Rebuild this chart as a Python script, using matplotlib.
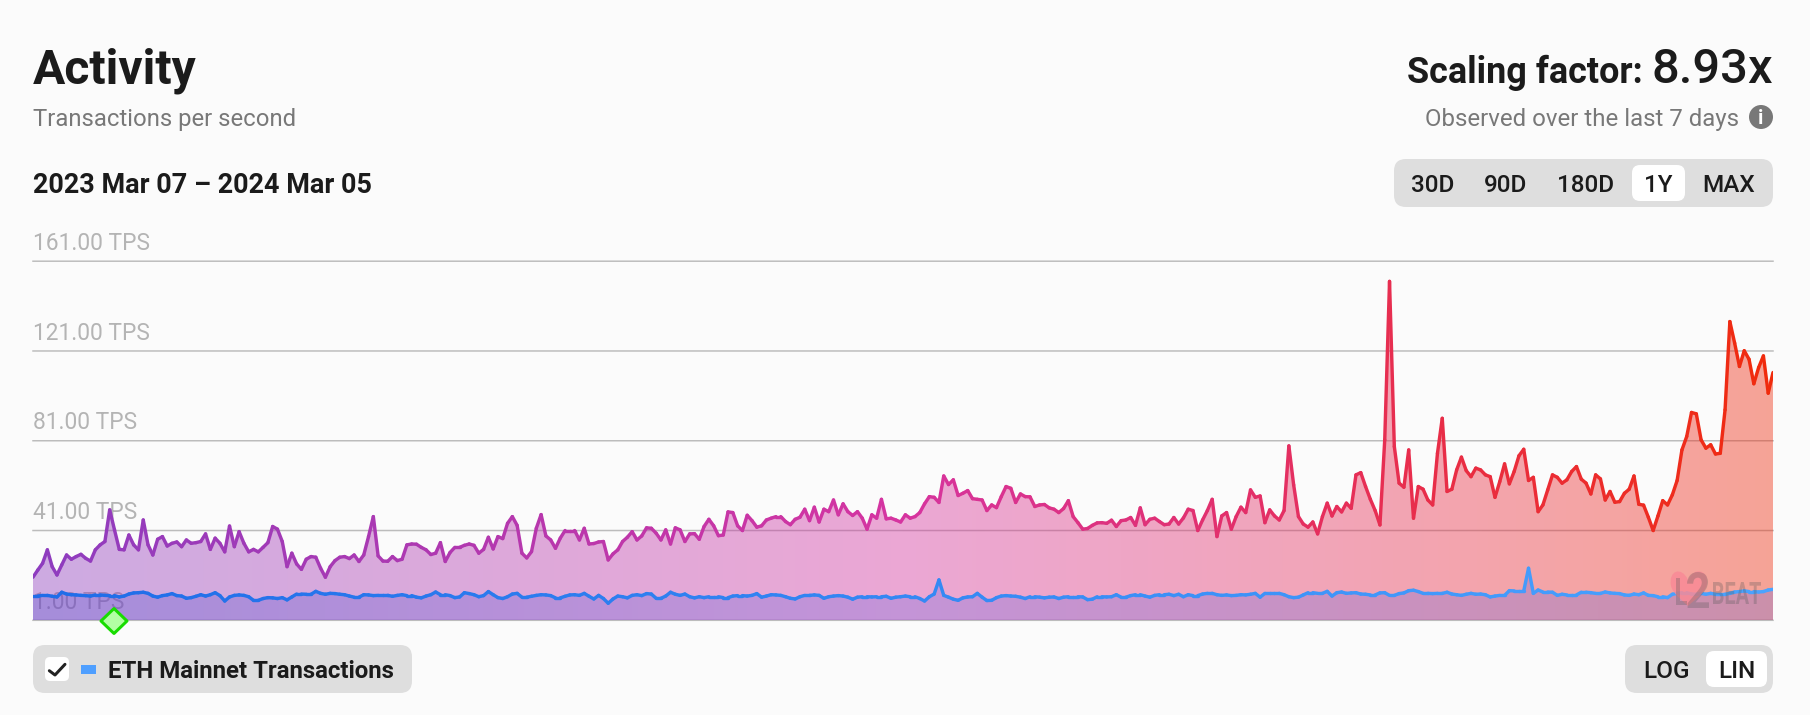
import numpy as np
import matplotlib
matplotlib.use("Agg")
import matplotlib.pyplot as plt
from matplotlib.collections import LineCollection
from matplotlib.patches import FancyBboxPatch, PathPatch, Circle, Polygon
from matplotlib.path import Path
from matplotlib.textpath import TextPath
from matplotlib.font_manager import FontProperties
from matplotlib.transforms import Affine2D, ScaledTranslation

plt.rcParams['font.family'] = ['Roboto', 'DejaVu Sans']

activity_tps = [
    20.2,23.4,26.4,32.4,24.9,21.2,25.7,30.1,28.2,29.4,30.4,28.6,27.4,32.4,34.6,36.1,50.2,41.3,32.6,32.4,39.0,34.6,32.4,45.7,34.6,30.1,37.1,38.3,34.1,35.3,
    35.9,33.8,36.8,35.3,35.6,36.1,39.5,32.6,37.6,35.3,31.5,43.0,33.8,40.5,35.3,31.5,32.6,31.5,33.5,35.6,42.8,41.6,36.1,24.9,30.9,26.1,23.7,28.2,29.4,29.1,
    24.2,20.2,24.9,27.6,29.1,29.4,28.5,30.1,27.2,30.1,38.3,47.2,29.7,27.4,27.3,29.4,27.6,28.2,34.6,35.0,34.9,33.5,32.4,30.3,30.9,35.6,27.2,31.2,33.5,33.5,
    34.4,35.0,34.4,30.9,32.6,38.0,32.8,38.3,37.4,44.2,47.2,43.3,30.9,28.8,31.6,42.0,48.1,38.6,36.8,33.1,37.6,41.0,41.0,41.0,36.8,42.0,35.0,35.2,35.9,36.1,
    27.9,30.6,32.4,36.1,38.0,40.5,36.8,38.6,42.2,42.0,39.8,36.8,41.3,35.0,42.2,41.3,36.1,39.5,39.6,37.1,42.8,46.0,43.1,38.7,39.0,49.3,49.0,43.1,41.0,47.8,
    45.4,42.5,43.1,45.7,46.5,47.2,47.2,45.0,43.6,46.0,46.9,50.5,45.4,51.4,44.8,50.5,49.4,54.6,48.0,52.9,49.4,47.7,49.4,46.5,41.6,48.0,46.5,54.9,46.2,46.5,
    45.7,44.8,48.0,46.5,
    47.2,49.0,52.9,56.1,55.8,53.5,65.3,61.5,63.6,56.6,57.6,58.8,55.2,54.9,54.6,49.9,52.4,51.2,56.1,60.6,59.8,53.5,57.3,56.1,56.0,51.7,52.4,52.6,51.1,50.5,
    49.0,50.8,54.3,47.2,44.5,41.6,41.9,43.3,44.4,44.5,44.2,45.6,42.8,45.4,45.7,46.8,43.3,51.1,43.6,46.0,46.5,45.0,43.6,43.9,46.8,43.9,46.6,50.5,49.9,41.0,
    45.7,49.9,54.9,38.3,47.5,49.0,41.6,47.2,51.4,49.0,59.1,55.8,56.4,44.5,50.2,47.5,45.7,49.9,78.7,61.3,47.2,43.9,42.5,44.8,39.5,47.2,53.2,47.5,51.7,49.3,
    53.2,50.9,
    65.8,66.8,60.6,54.9,49.9,43.5,81.4,152.0,78.4,62.1,60.3,76.9,46.5,60.6,59.4,54.6,52.4,75.4,91.0,58.4,59.4,68.0,73.7,67.7,65.0,68.8,68.0,65.8,65.0,55.8,
    62.8,70.7,61.8,67.3,74.3,77.2,63.3,64.7,49.4,52.4,59.1,65.8,64.7,62.1,63.6,67.3,69.5,63.9,62.1,57.3,65.8,64.0,54.6,58.4,53.6,53.9,57.6,59.4,65.3,52.7,
    52.3,46.9,41.0,47.5,54.3,52.4,56.9,63.3,76.9,82.9,93.6,93.0,81.4,77.7,79.2,75.1,75.4,94.8,134.1,124.5,114.1,121.1,117.3,106.4,113.6,118.8,102.2,111.4,
]

eth_tps = [
    11.8,11.8,12.1,12.1,11.7,11.4,13.5,12.7,12.4,12.3,12.1,12.0,11.8,12.3,12.3,12.1,12.0,12.0,11.4,11.8,12.7,13.2,13.3,13.5,13.0,11.8,11.3,12.0,12.3,12.9,
    12.0,11.8,10.8,11.1,11.7,12.4,11.8,12.4,13.3,12.0,9.6,11.4,12.1,12.3,12.1,11.5,9.9,9.9,10.7,11.1,11.0,10.7,11.1,10.1,11.4,12.7,12.7,12.6,12.6,13.9,
    13.0,12.6,13.0,12.9,12.6,12.4,11.8,11.3,11.3,12.4,12.3,12.0,12.1,12.1,12.1,11.7,12.1,12.4,12.0,12.0,11.3,11.0,11.8,12.4,13.6,12.4,12.4,12.0,11.1,11.4,
    13.3,12.9,12.4,11.5,12.0,13.8,12.4,11.1,10.7,11.5,12.7,13.0,11.3,11.3,11.7,12.1,12.4,12.3,12.0,11.0,11.0,11.7,12.3,12.4,12.1,13.0,11.7,10.5,12.1,10.7,
    8.6,10.5,11.8,11.5,11.0,12.1,12.4,12.0,12.9,12.7,10.8,10.8,11.8,13.5,12.6,12.1,12.7,11.5,11.0,11.5,11.1,11.5,11.5,11.5,11.1,11.1,11.8,12.0,12.0,11.8,
    12.1,12.9,11.3,11.8,12.4,12.3,12.1,11.5,10.8,10.5,11.5,12.1,12.1,12.3,12.1,
    10.8,11.5,11.8,12.0,11.8,11.3,10.4,11.3,11.5,11.5,11.4,11.5,11.5,11.7,10.8,11.3,11.5,11.8,
    11.5,11.5,10.7,9.6,11.5,12.7,19.0,12.1,11.3,10.4,9.9,11.0,11.4,11.5,13.0,11.3,9.8,9.9,11.1,11.8,12.0,11.8,11.7,11.3,10.7,11.5,11.5,11.3,11.0,11.3,11.4,
    10.7,11.3,11.5,11.5,11.5,11.4,10.2,10.4,11.5,11.5,11.4,11.5,12.4,11.3,11.3,12.0,12.4,12.4,11.8,11.3,12.1,12.4,12.4,12.6,12.0,12.6,11.5,12.4,12.0,12.0,
    12.7,13.0,13.0,12.4,12.1,12.3,12.0,12.1,12.4,12.3,12.6,13.0,11.3,13.0,13.0,13.0,13.0,12.4,11.5,11.1,11.3,12.3,13.3,13.3,13.0,13.0,13.9,11.8,13.3,13.6,
    13.0,13.2,
    13.3,12.7,12.6,12.3,12.3,13.2,13.3,12.1,12.1,12.9,13.2,14.2,14.4,13.8,13.0,13.0,12.9,13.0,13.0,13.5,12.7,12.4,12.1,12.6,13.0,12.6,12.7,12.4,11.4,11.8,
    12.1,12.1,14.2,14.1,14.1,14.1,24.2,13.0,14.5,13.6,13.6,13.5,12.1,12.6,12.3,12.3,12.3,13.5,13.5,13.3,13.0,13.0,13.6,13.2,13.0,12.9,12.3,12.1,12.7,12.4,
    13.2,12.1,12.0,11.5,11.5,11.1,12.6,13.0,13.3,13.3,12.7,12.6,13.0,12.6,13.0,12.6,12.6,12.6,13.0,13.6,13.8,14.1,13.8,13.8,13.6,13.8,14.5,14.8,
]

y_ticks = [1, 41, 81, 121, 161]
y_labels = ['1.00 TPS', '41.00 TPS', '81.00 TPS', '121.00 TPS', '161.00 TPS']
range_buttons = ['30D', '90D', '180D', '1Y', 'MAX']
scale_buttons = ['LOG', 'LIN']

BG = '#fbfbfb'
INK = '#1b1b1b'
MUTED = '#787878'
PANEL = '#dedede'

W, H = 1810, 715
fig = plt.figure(figsize=(W / 100, H / 100), dpi=100, facecolor=BG)


def pt(px):
    return px * 0.72


# ---- chart ----
LEFT, RIGHT, Y_BASE, Y_TOP = 33, 1773, 620.3, 261.2
ax = fig.add_axes([LEFT / W, 1 - Y_BASE / H, (RIGHT - LEFT) / W, (Y_BASE - Y_TOP) / H], zorder=1)
ax.patch.set_visible(False)
days = np.arange(len(activity_tps))
activity = np.array(activity_tps)
eth = np.array(eth_tps)


def gradient(stops, n=400):
    t = np.linspace(0, 1, n)
    pos = [s[0] for s in stops]
    return np.column_stack([np.interp(t, pos, [s[1][i] for s in stops]) / 255 for i in range(3)])


top_stops = [(0, (142, 60, 191)), (.5, (214, 52, 160)), (.75, (230, 46, 90)), (1, (240, 43, 12))]
eth_stops = [(0, (31, 108, 232)), (1, (74, 163, 255))]
eth_fill_stops = [(0, (74, 73, 204)), (.5, (105, 105, 225)), (1, (107, 100, 220))]


def gradient_area(y, stops, alpha, z):
    rgb = gradient(stops)
    img = np.column_stack([rgb, np.full(len(rgb), alpha)])[np.newaxis, :, :]
    im = ax.imshow(img, extent=(days[0], days[-1], y_ticks[0], y_ticks[-1]), aspect='auto',
                   origin='lower', interpolation='bilinear', zorder=z)
    verts = np.vstack([[days[0], y_ticks[0]], np.column_stack([days, y]), [days[-1], y_ticks[0]]])
    im.set_clip_path(Path(verts), transform=ax.transData)


def gradient_line(y, stops, z):
    pts = np.column_stack([days, y])
    segs = np.stack([pts[:-1], pts[1:]], axis=1)
    rgb = gradient(stops, len(segs))
    lc = LineCollection(segs, colors=rgb, linewidths=pt(3.4), capstyle='round', joinstyle='round', zorder=z)
    ax.add_collection(lc)


gradient_area(activity, top_stops, 0.42, 2)
gradient_line(activity, top_stops, 3)
gradient_area(eth, eth_fill_stops, 0.30, 4)
gradient_line(eth, eth_stops, 5)

ax.set_xlim(days[0], days[-1])
ax.set_ylim(y_ticks[0], y_ticks[-1])
ax.set_xticks([])
ax.set_yticks(y_ticks)
ax.set_yticklabels(y_labels)
ax.set_axisbelow(True)
ax.grid(axis='y', color='#bcbcbc', lw=pt(1.5), snap=False)
for g in ax.get_ygridlines():
    g.set_clip_on(False)
ax.tick_params(axis='y', length=0, pad=0, labelsize=pt(22.7), labelcolor='#b4b4b4')
shift = ScaledTranslation(0, 11.4 / 100, fig.dpi_scale_trans)
for lab in ax.get_yticklabels():
    lab.set_ha('left')
    lab.set_va('baseline')
    lab.set_transform(lab.get_transform() + shift)
for s in ax.spines.values():
    s.set_visible(False)

# ---- page furniture, in pixel coordinates ----
ui = fig.add_axes([0, 0, 1, 1], zorder=2)
ui.set_xlim(0, W)
ui.set_ylim(H, 0)
ui.axis('off')


def box(x0, y0, x1, y1, r, color):
    ui.add_patch(FancyBboxPatch((x0, y0), x1 - x0, y1 - y0, boxstyle=f'round,pad=0,rounding_size={r}',
                                fc=color, ec='none'))


def label(x, y, s, px, color=INK, weight='normal', ha='left'):
    ui.text(x, y, s, fontsize=pt(px), color=color, fontweight=weight, ha=ha, va='baseline')


label(33, 83, 'Activity', 48, weight='bold')
label(33, 126, 'Transactions per second', 23.9, MUTED)
label(33, 192.7, '2023 Mar 07 – 2024 Mar 05', 27, weight='bold')
label(1643, 83, 'Scaling factor:', 36, weight='bold', ha='right')
label(1772.7, 83, '8.93x', 49, weight='medium', ha='right')
label(1739, 126, 'Observed over the last 7 days', 23.95, MUTED, ha='right')
ui.add_patch(Circle((1761, 117), 12, fc=MUTED, ec='none'))
ui.text(1761, 124.5, 'i', fontsize=pt(20), color='white', fontweight='bold', ha='center', va='baseline')

box(1394, 159, 1773, 207, 12, PANEL)
box(1632, 165, 1685, 201, 8, '#ffffff')
for cx, s in zip([1433, 1506, 1586, 1658, 1729], range_buttons):
    label(cx, 192, s, 24.2, weight='medium', ha='center')

box(1625, 645, 1773, 693, 12, PANEL)
box(1706, 651, 1767, 687, 8, '#ffffff')
for cx, s in zip([1666, 1737], scale_buttons):
    label(cx, 678, s, 24.2, weight='medium', ha='center')

box(33, 645, 412, 693, 12, PANEL)
box(45, 657, 69, 681, 5, '#ffffff')
ui.plot([49.3, 55, 65], [670.7, 675, 664.3], color='#222222', lw=pt(3), solid_capstyle='round')
ui.add_patch(plt.Rectangle((81, 665), 15, 9, fc='#4f9fff', ec='none'))
label(108, 678, 'ETH Mainnet Transactions', 24, weight='bold')

ui.add_patch(Polygon([(114, 608.5), (127, 621), (114, 633.5), (101, 621)], closed=True,
                     fc='#b2ffa3', ec='#18dc00', lw=pt(3), joinstyle='round'))

# ---- L2BEAT watermark ----
heart = Path([(1688, 580), (1682, 566), (1668, 570), (1671, 586), (1673, 594), (1682, 600), (1688, 606),
              (1694, 600), (1705, 594), (1707, 584), (1709, 570), (1694, 566), (1688, 580)],
             [Path.MOVETO] + [Path.CURVE4] * 12)
ui.add_patch(PathPatch(heart, fc='#f98a96', ec='none', alpha=0.85))
bold = FontProperties(family='Roboto', weight='bold')


def stretched(s, x0, x1, y0, y1):
    tp = TextPath((0, 0), s, size=10, prop=bold)
    bb = tp.get_extents()
    tr = Affine2D().translate(-bb.x0, -bb.y0).scale((x1 - x0) / bb.width, -(y1 - y0) / bb.height).translate(x0, y1)
    ui.add_patch(PathPatch(tp, transform=tr + ui.transData, fc='#5a5a5a', ec='none', alpha=0.3))


stretched('L', 1676, 1687, 578, 605)
stretched('2', 1687, 1709, 572, 608)
stretched('BEAT', 1713, 1761, 582, 604)

fig.savefig('out.png', dpi=100, facecolor=BG)
